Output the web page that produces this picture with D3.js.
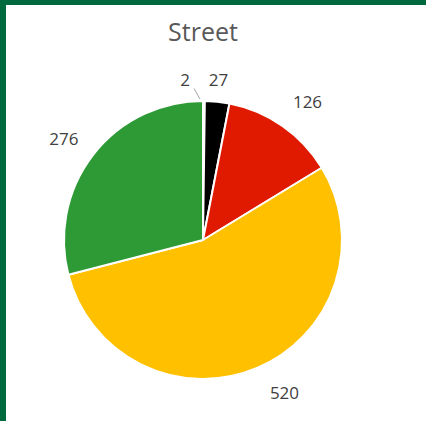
<!DOCTYPE html>
<html>
<head>
<meta charset="utf-8">
<script src="https://cdn.jsdelivr.net/npm/d3@7"></script>
<style>
  html, body { margin: 0; padding: 0; background: #ffffff; }
  svg { display: block; }
</style>
</head>
<body>
<svg id="chart" width="426" height="421"></svg>
<script>
// Street counts per category, clockwise from 12 o'clock
const categories = ["White", "Black", "Red", "Amber", "Green"];
const values = [2, 27, 126, 520, 276];
const colors = ["#ffffff", "#000000", "#e01a00", "#ffc000", "#2e9a36"];
const title = "Street";

const W = 426, H = 421;
const cx = 203, cy = 240, r = 139;
const labelR = r + 22;

const svg = d3.select("#chart");

// frame
svg.append("rect").attr("x", 0).attr("y", 0).attr("width", W).attr("height", H).attr("fill", "#ffffff");
svg.append("rect").attr("x", 0).attr("y", 0).attr("width", W).attr("height", 5).attr("fill", "#00693e");
svg.append("rect").attr("x", 0).attr("y", 0).attr("width", 6).attr("height", H).attr("fill", "#00693e");

svg.append("text")
  .attr("x", 203).attr("y", 41)
  .attr("text-anchor", "middle")
  .attr("font-family", "'Open Sans', 'Noto Sans', sans-serif")
  .attr("font-size", 25)
  .attr("fill", "#595959")
  .text(title);

const data = categories.map((c, i) => ({ category: c, value: values[i], color: colors[i] }));

const pie = d3.pie().sort(null).value(d => d.value);
const arcs = pie(data);
const arc = d3.arc().innerRadius(0).outerRadius(r);

const g = svg.append("g").attr("transform", `translate(${cx},${cy})`);

g.selectAll("path.slice")
  .data(arcs)
  .join("path")
  .attr("class", "slice")
  .attr("d", arc)
  .attr("fill", d => d.data.color)
  .attr("stroke", "#ffffff")
  .attr("stroke-width", 2)
  .attr("stroke-linejoin", "round");

// labels placed outside each slice, pushed out by half their box
const nudges = { White: [-19, 8], Black: [-2, 7], Red: [4, 0], Amber: [13, -1], Green: [0, 2] };
const lbl = g.append("g")
  .attr("font-family", "'Open Sans', 'Noto Sans', sans-serif")
  .attr("font-size", 17)
  .attr("fill", "#404040");

arcs.forEach(a => {
  const mid = (a.startAngle + a.endAngle) / 2;
  const s = Math.sin(mid), c = Math.cos(mid);
  const txt = String(a.data.value);
  const w = txt.length * 10, h = 13;
  const n = nudges[a.data.category] || [0, 0];
  const x = s * labelR + s * w / 2 + n[0];
  const y = -c * labelR - c * h / 2 + n[1];
  lbl.append("text")
    .attr("x", x).attr("y", y)
    .attr("text-anchor", "middle")
    .attr("dy", "0.35em")
    .text(txt);
  if (a.data.category === "White") {
    const ex = s * (r + 2) - 4, ey = -c * (r + 2);
    g.append("line")
      .attr("x1", x + 9).attr("y1", y + 8)
      .attr("x2", ex).attr("y2", ey)
      .attr("stroke", "#a6a6a6")
      .attr("stroke-width", 1);
  }
});
</script>
</body>
</html>
